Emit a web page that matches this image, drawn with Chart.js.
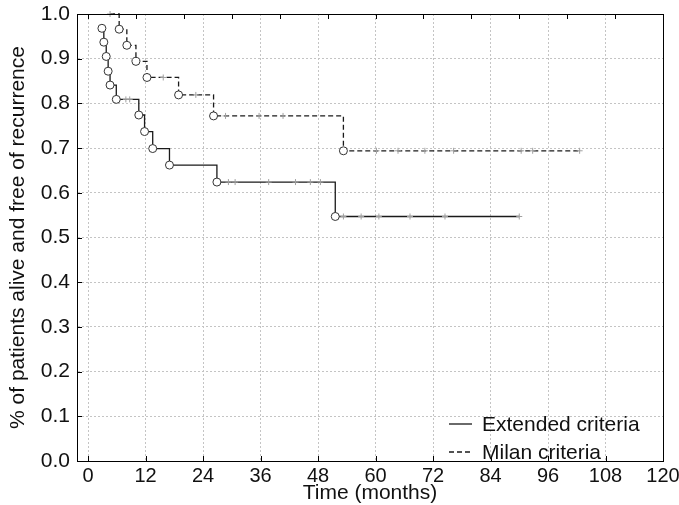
<!DOCTYPE html>
<html>
<head>
<meta charset="utf-8">
<script src="https://cdn.jsdelivr.net/npm/chart.js@4/dist/chart.umd.min.js"></script>
<style>
  html, body { margin: 0; padding: 0; background: #fff; }
  #wrap { width: 679px; height: 505px; position: relative; }
</style>
</head>
<body>
<div id="wrap"><canvas id="km"></canvas></div>
<script>
// Kaplan-Meier data (months, survival fraction, 1 = censored)
const extTime = [2.9, 3.3, 3.8, 4.2, 4.6, 5.9, 7.9, 8.7, 10.6, 11.8, 13.5, 17.0, 26.9, 29.3, 30.7, 37.7, 43.3, 46.4, 48.5, 51.6, 53.3, 57.0, 60.7, 67.2, 74.5, 90.0];
const extSurv = [0.968, 0.937, 0.905, 0.872, 0.841, 0.809, 0.809, 0.809, 0.774, 0.737, 0.699, 0.662, 0.624, 0.624, 0.624, 0.624, 0.624, 0.624, 0.624, 0.547, 0.547, 0.547, 0.547, 0.547, 0.547, 0.547];
const extCens = [0, 0, 0, 0, 0, 0, 1, 1, 0, 0, 0, 0, 0, 1, 1, 1, 1, 1, 1, 0, 1, 1, 1, 1, 1, 1];

const milTime = [4.6, 6.5, 8.1, 10.0, 12.3, 15.7, 18.9, 22.5, 26.2, 28.7, 35.7, 40.7, 53.3, 60.2, 64.7, 70.3, 76.3, 90.4, 92.8, 102.6];
const milSurv = [1.0, 0.966, 0.930, 0.894, 0.858, 0.858, 0.819, 0.819, 0.772, 0.772, 0.772, 0.772, 0.694, 0.694, 0.694, 0.694, 0.694, 0.694, 0.694, 0.694];
const milCens = [1, 0, 0, 0, 0, 1, 0, 1, 0, 1, 1, 1, 0, 1, 1, 1, 1, 1, 1, 1];

const xTicks = [0, 12, 24, 36, 48, 60, 72, 84, 96, 108, 120];
const topTicks = [0, 10, 20, 30, 40, 50, 60, 70, 80, 90, 100, 110, 120];
const yTicks = [0, 0.1, 0.2, 0.3, 0.4, 0.5, 0.6, 0.7, 0.8, 0.9, 1.0];
const seriesNames = ['Extended criteria', 'Milan criteria'];

const FONT = '"Liberation Sans", Arial, sans-serif';

function toPoints(t, s) {
  return t.map((v, i) => ({ x: v, y: s[i] }));
}

function kmDataset(label, t, s, cens, dash) {
  return {
    label: label,
    data: toPoints(t, s),
    stepped: 'before',
    borderColor: '#1a1a1a',
    borderWidth: 1.3,
    borderDash: dash,
    fill: false,
    clip: 4,
    pointStyle: ctx => cens[ctx.dataIndex] ? 'cross' : 'circle',
    pointRadius: ctx => cens[ctx.dataIndex] ? 3 : 4,
    pointBorderWidth: 1,
    pointBorderColor: ctx => cens[ctx.dataIndex] ? '#a0a0a0' : '#333',
    pointBackgroundColor: '#fff',
    pointHoverRadius: 0
  };
}

// frame around plot area, inward ticks, legend inside lower right
const framePlugin = {
  id: 'frame',
  afterDraw(chart) {
    const { ctx, chartArea: a, scales } = chart;
    ctx.save();
    ctx.strokeStyle = '#000';
    ctx.lineWidth = 1;
    ctx.strokeRect(a.left + 0.5, a.top + 0.5, a.right - a.left, a.bottom - a.top);

    ctx.beginPath();
    yTicks.forEach(v => {
      const py = Math.round(scales.y.getPixelForValue(v)) + 0.5;
      ctx.moveTo(a.left, py); ctx.lineTo(a.left + 5, py);
    });
    xTicks.forEach(v => {
      const px = Math.round(scales.x.getPixelForValue(v)) + 0.5;
      ctx.moveTo(px, a.bottom); ctx.lineTo(px, a.bottom - 5);
    });
    topTicks.forEach(v => {
      const px = Math.round(scales.x.getPixelForValue(v)) + 0.5;
      ctx.moveTo(px, a.top); ctx.lineTo(px, a.top + 5);
    });
    ctx.stroke();

    ctx.font = '21px ' + FONT;
    ctx.fillStyle = '#111';
    ctx.textBaseline = 'middle';
    const lx = a.right - 214, rows = [a.bottom - 37, a.bottom - 9];
    chart.data.datasets.forEach((ds, i) => {
      ctx.strokeStyle = '#1a1a1a';
      ctx.lineWidth = 1.3;
      ctx.setLineDash(ds.borderDash || []);
      ctx.beginPath();
      ctx.moveTo(lx, rows[i]);
      ctx.lineTo(lx + 23, rows[i]);
      ctx.stroke();
      ctx.setLineDash([]);
      ctx.fillText(ds.label, lx + 33, rows[i] + 1);
    });
    ctx.restore();
  }
};

new Chart(document.getElementById('km'), {
  type: 'line',
  data: {
    datasets: [
      kmDataset(seriesNames[0], extTime, extSurv, extCens, []),
      kmDataset(seriesNames[1], milTime, milSurv, milCens, [5, 3])
    ]
  },
  options: {
    responsive: true,
    maintainAspectRatio: false,
    animation: false,
    layout: { padding: { left: 2, right: 16, top: 14, bottom: 1 } },
    plugins: {
      legend: { display: false },
      tooltip: { enabled: false }
    },
    scales: {
      x: {
        type: 'linear',
        min: -2.3,
        max: 120,
        afterBuildTicks: axis => { axis.ticks = xTicks.map(v => ({ value: v })); },
        afterFit: scale => { scale.height = 43; scale.paddingLeft = 0; scale.paddingRight = 0; },
        grid: { color: '#c4c4c4', drawTicks: false, lineWidth: 1 },
        border: { color: '#000', dash: [2, 2] },
        ticks: { color: '#111', font: { family: FONT, size: 20, lineHeight: 1.0 }, padding: 5, maxRotation: 0 },
        title: { display: true, text: 'Time (months)', color: '#111', font: { family: FONT, size: 21, lineHeight: 1.0 }, padding: { top: 0, bottom: 0 } }
      },
      y: {
        min: 0,
        max: 1,
        afterBuildTicks: axis => { axis.ticks = yTicks.map(v => ({ value: v })); },
        afterFit: scale => { scale.width = 75; scale.paddingTop = 0; scale.paddingBottom = 0; },
        grid: { color: '#c4c4c4', drawTicks: false, lineWidth: 1 },
        border: { color: '#000', dash: [2, 2] },
        ticks: { color: '#111', font: { family: FONT, size: 21 }, padding: 7, callback: v => v.toFixed(1) },
        title: { display: true, text: '% of patients alive and free of recurrence', color: '#111', font: { family: FONT, size: 21, lineHeight: 1.2 }, padding: { top: 4, bottom: 0 } }
      }
    }
  },
  plugins: [framePlugin]
});
</script>
</body>
</html>
